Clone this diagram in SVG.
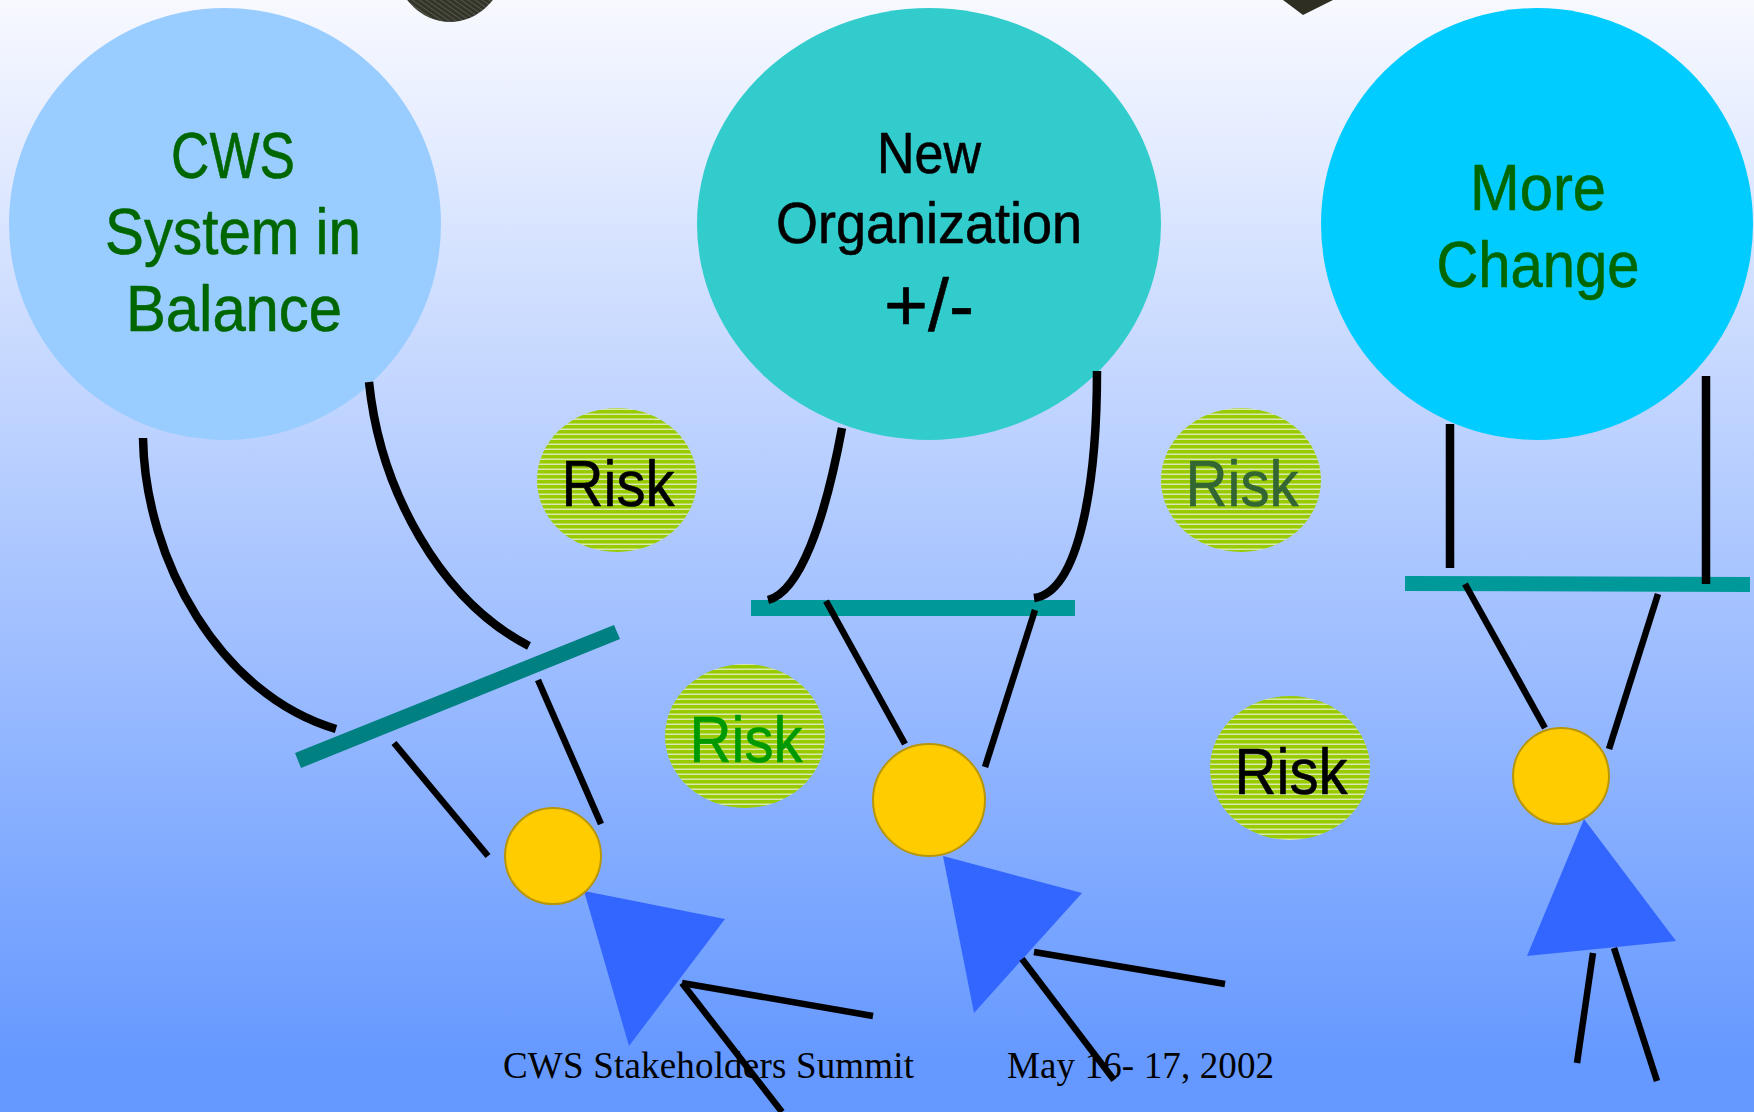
<svg xmlns="http://www.w3.org/2000/svg" width="1754" height="1112" viewBox="0 0 1754 1112">
<defs>
<linearGradient id="bg" x1="0" y1="0" x2="0" y2="1"><stop offset="0" stop-color="#f8f9ff"/><stop offset="0.95" stop-color="#6699ff"/><stop offset="1" stop-color="#6699ff"/></linearGradient>
<pattern id="stripe" width="8" height="5" patternUnits="userSpaceOnUse"><rect width="8" height="5" fill="#99cc00"/><rect y="3.5" width="8" height="1.5" fill="#e4ecd0" fill-opacity="0.85"/></pattern>
<pattern id="dark" width="4" height="4" patternUnits="userSpaceOnUse" patternTransform="rotate(-55)"><rect width="4" height="4" fill="#33352b"/><rect width="1" height="4" fill="#55574a"/></pattern>
</defs>
<style>
.lbl{font-family:"Liberation Sans",Arial,sans-serif;text-anchor:middle;stroke-linejoin:round}
.big{font-size:65px;fill:#006600;stroke:#006600;stroke-width:.6}
.mid{font-size:57px;fill:#000;stroke:#000;stroke-width:.6}
.risk{font-size:65px;fill:#000;stroke-width:.6}
.foot{font-family:"Liberation Serif","Times New Roman",serif;font-size:37px;fill:#000}
.con{fill:none;stroke:#000;stroke-linecap:butt}
.heavy{stroke-width:8.5}
.thin{stroke-width:6.5}
.sun{fill:#ffcc00;stroke:#b8960a;stroke-width:2}
.tri{fill:#3366ff}
.risk-bg{fill:url(#stripe)}
</style>
<rect width="1754" height="1112" fill="url(#bg)"/>
<g id="top-shapes">
<ellipse cx="450" cy="-40" rx="56" ry="62" fill="url(#dark)"/>
<polygon points="1283,0 1303,15 1333,0" fill="#2e2e22"/>
</g>
<g id="node-balance"><circle cx="225" cy="224" r="216" fill="#99ccff"/>
<text class="lbl big" x="233" y="178" textLength="124" lengthAdjust="spacingAndGlyphs">CWS</text>
<text class="lbl big" x="233" y="254" textLength="256" lengthAdjust="spacingAndGlyphs">System in</text>
<text class="lbl big" x="234" y="331" textLength="216" lengthAdjust="spacingAndGlyphs">Balance</text></g>
<g id="node-organization"><ellipse cx="929" cy="224" rx="232" ry="216" fill="#33cccc"/>
<text class="lbl mid" x="929" y="173" textLength="104" lengthAdjust="spacingAndGlyphs">New</text>
<text class="lbl mid" x="929" y="243" textLength="306" lengthAdjust="spacingAndGlyphs">Organization</text>
<text class="lbl mid" style="font-size:74px" x="929" y="331" textLength="90" lengthAdjust="spacingAndGlyphs">+/-</text></g>
<g id="node-change"><circle cx="1537" cy="224" r="216" fill="#00ccff"/>
<text class="lbl big" x="1538" y="210" textLength="136" lengthAdjust="spacingAndGlyphs">More</text>
<text class="lbl big" x="1538" y="287" textLength="203" lengthAdjust="spacingAndGlyphs">Change</text></g>
<g id="risk-1"><ellipse class="risk-bg" cx="617" cy="480" rx="80" ry="72"/><text class="lbl risk" stroke="#000" x="618" y="506" textLength="113" lengthAdjust="spacingAndGlyphs">Risk</text></g>
<g id="risk-2"><ellipse class="risk-bg" cx="1241" cy="480" rx="80" ry="72"/><text class="lbl risk" stroke="#336633" style="fill:#336633" x="1242" y="506" textLength="113" lengthAdjust="spacingAndGlyphs">Risk</text></g>
<g id="risk-3"><ellipse class="risk-bg" cx="745" cy="736" rx="80" ry="72"/><text class="lbl risk" stroke="#009900" style="fill:#009900" x="746" y="762" textLength="113" lengthAdjust="spacingAndGlyphs">Risk</text></g>
<g id="risk-4"><ellipse class="risk-bg" cx="1290" cy="768" rx="80" ry="72"/><text class="lbl risk" stroke="#000" x="1291" y="794" textLength="113" lengthAdjust="spacingAndGlyphs">Risk</text></g>
<g id="bar-1"><polygon points="614,625 620,639 301,768 295,753" fill="#008080"/></g>
<g id="bar-2"><rect x="751" y="600" width="324" height="16" fill="#009999"/></g>
<g id="bar-3"><polygon points="1405,576 1750,577 1750,592 1405,591" fill="#009999"/></g>
<g id="person-1"><polygon class="tri" points="584,891 725,919 629,1046"/><circle class="sun" cx="553" cy="856" r="48"/></g>
<g id="person-2"><polygon class="tri" points="943,856 1082,893 974,1013"/><circle class="sun" cx="929" cy="800" r="56"/></g>
<g id="person-3"><polygon class="tri" points="1584,819 1676,941 1527,956"/><circle class="sun" cx="1561" cy="776" r="48"/></g>
<g id="connectors">
<path class="con heavy" d="M143,438 C145,560 220,695 336,729"/>
<path class="con heavy" d="M369,382 C380,490 440,600 529,646"/>
<path class="con heavy" d="M842,428 C825,520 800,592 768,600"/>
<path class="con heavy" d="M1097,371 C1097,480 1080,592 1034,598"/>
<path class="con heavy" d="M1450,424 V568"/>
<path class="con heavy" d="M1706,376 V584"/>
<path class="con thin" d="M394,743 L488,856"/>
<path class="con thin" d="M538,680 L601,824"/>
<path class="con thin" d="M826,601 L905,744"/>
<path class="con thin" d="M1035,610 L985,767"/>
<path class="con thin" d="M1465,584 L1545,728"/>
<path class="con thin" d="M1658,594 L1609,749"/>
<path class="con thin" d="M682,983 L873,1016"/>
<path class="con thin" d="M682,983 L782,1112"/>
<path class="con thin" d="M1034,952 L1225,984"/>
<path class="con thin" d="M1022,959 L1114,1080"/>
<path class="con thin" d="M1593,953 L1577,1063"/>
<path class="con thin" d="M1614,948 L1657,1081"/>
</g>
<g id="footer">
<text class="foot" x="503" y="1078" textLength="411">CWS Stakeholders Summit</text>
<text class="foot" x="1007" y="1078" textLength="267">May 16- 17, 2002</text>
</g>
</svg>
